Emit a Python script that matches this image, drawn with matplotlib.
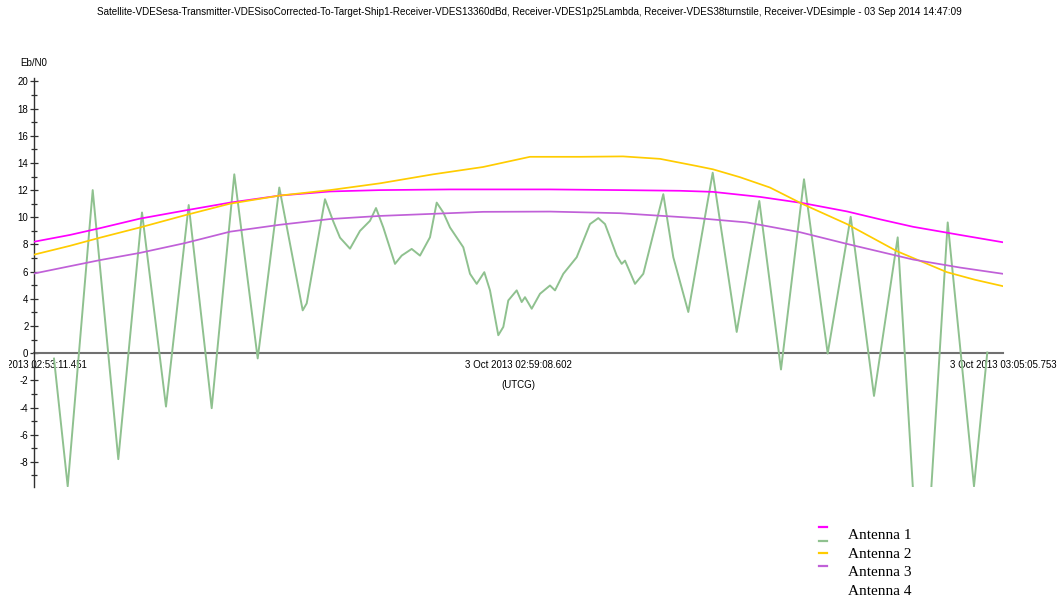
import matplotlib
matplotlib.use("Agg")
import matplotlib.pyplot as plt
from matplotlib.lines import Line2D
from matplotlib.ticker import MultipleLocator, FixedLocator, FixedFormatter
from matplotlib.transforms import Bbox

plt.rcParams['font.family'] = ['Liberation Sans', 'DejaVu Sans']
plt.rcParams['axes.unicode_minus'] = False

title = ("Satellite-VDESesa-Transmitter-VDESisoCorrected-To-Target-Ship1-Receiver-VDES13360dBd, "
         "Receiver-VDES1p25Lambda, Receiver-VDES38turnstile, Receiver-VDEsimple - 03 Sep 2014 14:47:09")
y_label = "Eb/N0"
x_label = "(UTCG)"
x_tick_seconds = [0.0, 357.151, 714.302]
x_tick_labels = ["3 Oct 2013 02:53:11.451", "3 Oct 2013 02:59:08.602", "3 Oct 2013 03:05:05.753"]
series_names = ["Antenna 1", "Antenna 2", "Antenna 3", "Antenna 4"]
series_colors = ["#ff00ff", "#8fc18f", "#ffcc00", "#c060d8"]

# time in seconds since 02:53:11.451 UTCG, Eb/N0 in dB
ant1_t = [0, 26.5, 48.7, 78.1, 111.3, 144.5, 181.3, 218.2, 255.1, 306.7, 380.4, 432.0,
          476.2, 500.5, 535.2, 566.9, 599.3, 623.6, 648.0, 682.6, 714.3]
ant1_v = [8.2, 8.7, 9.2, 9.9, 10.5, 11.08, 11.6, 11.9, 12.0, 12.05, 12.05, 12.0,
          11.95, 11.87, 11.5, 11.04, 10.43, 9.85, 9.3, 8.7, 8.16]

ant2_t = [14.74, 24.84, 43.27, 62.14, 79.61, 97.30, 114.04, 130.99, 147.65, 164.90,
          180.82, 198.07, 201.02, 214.51, 220.41, 225.57, 232.94, 240.31, 247.68, 252.11,
          257.49, 266.11, 271.05, 278.42, 284.54, 291.91, 296.85, 301.71, 306.65, 316.46,
          321.40, 326.34, 331.94, 336.14, 342.26, 345.95, 349.63, 355.82, 359.51, 361.94,
          366.88, 373.00, 380.37, 384.06, 390.18, 400.05, 409.86, 415.98, 420.92, 424.60,
          429.54, 433.23, 435.66, 443.03, 449.15, 463.89, 471.26, 482.32, 500.31, 518.00,
          534.66, 550.65, 567.61, 585.08, 602.03, 619.21, 636.68, 654.59, 673.54, 692.92,
          702.72]
ant2_v = [-0.4, -9.8, 12.0, -7.8, 10.35, -3.93, 10.9, -4.05, 13.16, -0.39,
          12.19, 3.15, 3.66, 11.33, 9.74, 8.5, 7.69, 9.0, 9.74, 10.68,
          9.25, 6.57, 7.18, 7.67, 7.18, 8.53, 11.08, 10.35, 9.25, 7.79,
          5.84, 5.1, 5.96, 4.62, 1.32, 1.93, 3.88, 4.62, 3.76, 4.12,
          3.27, 4.37, 4.98, 4.62, 5.84, 7.06, 9.5, 9.94, 9.5, 8.52,
          7.18, 6.57, 6.81, 5.1, 5.84, 11.7, 7.06, 3.03, 13.28, 1.56,
          11.2, -1.2, 12.8, -0.03, 10.04, -3.15, 8.52, -21.0, 9.62, -9.8,
          0.05]

ant3_t = [0, 26.5, 48.7, 78.1, 111.3, 144.5, 181.3, 218.2, 255.1, 294.1, 331.0, 365.6,
          402.5, 434.2, 461.5, 488.7, 500.5, 520.4, 542.5, 566.9, 599.3, 636.2, 673.0,
          693.7, 714.3]
ant3_v = [7.25, 7.9, 8.5, 9.25, 10.15, 11.0, 11.6, 12.0, 12.5, 13.16, 13.7, 14.45,
          14.45, 14.48, 14.3, 13.77, 13.53, 12.95, 12.19, 10.96, 9.5, 7.5, 5.96,
          5.4, 4.93]

ant4_t = [0, 26.5, 48.7, 78.1, 111.3, 144.5, 181.3, 218.2, 255.1, 331.0, 380.4, 432.0,
          488.7, 525.6, 564.7, 599.3, 648.0, 682.6, 714.3]
ant4_v = [5.86, 6.4, 6.85, 7.38, 8.1, 8.94, 9.45, 9.87, 10.1, 10.4, 10.42, 10.3,
          9.94, 9.62, 8.9, 8.04, 6.89, 6.3, 5.84]

W, H = 1058, 600
fig = plt.figure(figsize=(W / 100, H / 100), dpi=100)
ax = fig.add_axes([34 / W, 1 - 487 / H, 969 / W, (487 - 78) / H])

series = [(ant1_t, ant1_v), (ant2_t, ant2_v), (ant3_t, ant3_v), (ant4_t, ant4_v)]
draw_order = [1, 0, 2, 3]
for i in draw_order:
    t, v = series[i]
    ax.plot(t, v, color=series_colors[i], lw=1.4 if i == 1 else 1.25,
            label=series_names[i], zorder=3, solid_joinstyle='round')

ax.set_xlim(x_tick_seconds[0], x_tick_seconds[-1])
ax.set_ylim(-9.85, 20.25)

for s in ['top', 'right']:
    ax.spines[s].set_visible(False)
ax.spines['left'].set_color('#303030')
ax.spines['left'].set_linewidth(1.0)
ax.spines['bottom'].set_position(('data', 0))
ax.spines['bottom'].set_color('#707070')
ax.spines['bottom'].set_linewidth(1.5)
ax.spines['bottom'].set_zorder(2)

ax.yaxis.set_major_locator(MultipleLocator(2))
ax.yaxis.set_minor_locator(MultipleLocator(1))
ax.tick_params(axis='y', which='major', direction='inout', length=6, width=0.9,
               labelsize=7, pad=1, colors='#303030', labelcolor='black')
ax.tick_params(axis='y', which='minor', direction='inout', length=4, width=0.9,
               colors='#303030')

ax.xaxis.set_major_locator(FixedLocator(x_tick_seconds))
ax.xaxis.set_major_formatter(FixedFormatter(x_tick_labels))
ax.tick_params(axis='x', which='both', length=0, labelsize=7, pad=5)
ax.set_xlabel(x_label, fontsize=7, labelpad=7)

# the first time label is cropped by the plot frame on its left side
first_label = ax.xaxis.get_major_ticks()[0].label1
first_label.set_clip_on(True)
first_label.set_clip_box(Bbox.from_extents(9, 0, W, H))

ax.text(0, 1.025, y_label, transform=ax.transAxes, ha='center', va='bottom', fontsize=7)
fig.text(0.5, 1 - 12 / H, title, ha='center', va='center', fontsize=7.15)

# legend: colour dashes in one column, names in the next
dash_y = [527, 540.5, 553.3, 566]
label_y = [535.7, 554.2, 572.7, 591.2]
for i in range(len(series_names)):
    fig.add_artist(Line2D([819 / W, 827 / W], [1 - dash_y[i] / H] * 2,
                          transform=fig.transFigure, color=series_colors[i], lw=1.6))
    fig.text(848 / W, 1 - label_y[i] / H, series_names[i], ha='left', va='center',
             fontsize=11, family=['Liberation Serif', 'DejaVu Serif'])

fig.savefig("out.png", dpi=100)
